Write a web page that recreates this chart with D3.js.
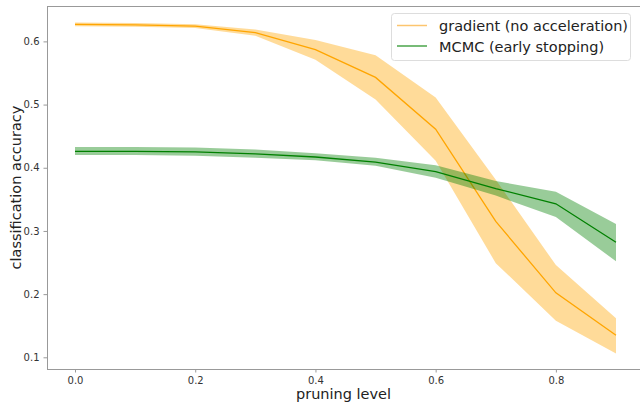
<!DOCTYPE html>
<html>
<head>
<meta charset="utf-8">
<script src="https://cdn.jsdelivr.net/npm/d3@7"></script>
<style>
  body { margin: 0; background: #fff; }
  svg { display: block; font-family: "DejaVu Sans", sans-serif; }
</style>
</head>
<body>
<div id="chart"></div>
<script>
// pruning levels
const levels = [0.0, 0.1, 0.2, 0.3, 0.4, 0.5, 0.6, 0.7, 0.8, 0.9];

// gradient (no acceleration)
const gradMean = [0.627, 0.626, 0.624, 0.614, 0.587, 0.543, 0.461, 0.315, 0.202, 0.135];
const gradLow  = [0.624, 0.623, 0.621, 0.609, 0.571, 0.508, 0.411, 0.249, 0.158, 0.106];
const gradHigh = [0.630, 0.629, 0.627, 0.619, 0.602, 0.578, 0.511, 0.381, 0.246, 0.162];

// MCMC (early stopping)
const mcmcMean = [0.426, 0.426, 0.425, 0.422, 0.417, 0.409, 0.394, 0.367, 0.343, 0.282];
const mcmcLow  = [0.420, 0.420, 0.419, 0.416, 0.412, 0.403, 0.384, 0.356, 0.322, 0.252];
const mcmcHigh = [0.433, 0.433, 0.432, 0.429, 0.423, 0.416, 0.404, 0.379, 0.362, 0.311];

const xTicks = [0.0, 0.2, 0.4, 0.6, 0.8];
const yTicks = [0.1, 0.2, 0.3, 0.4, 0.5, 0.6];

const width = 640, height = 402;
const mLeft = 47, mTop = 6, mRight = 644, mBottom = 369;

const svg = d3.select("#chart").append("svg")
  .attr("width", width)
  .attr("height", height);

const x = d3.scaleLinear().domain([-0.0466, 0.9466]).range([mLeft, mRight]);
const y = d3.scaleLinear().domain([0.0815, 0.656]).range([mBottom, mTop]);

// bands
function band(lo, hi, color) {
  const area = d3.area()
    .x((d, i) => x(levels[i]))
    .y0((d, i) => y(lo[i]))
    .y1((d, i) => y(hi[i]));
  svg.append("path")
    .datum(levels)
    .attr("d", area)
    .attr("fill", color)
    .attr("fill-opacity", 0.4);
}
function line(vals, color) {
  const l = d3.line()
    .x((d, i) => x(levels[i]))
    .y((d, i) => y(vals[i]));
  svg.append("path")
    .datum(levels)
    .attr("d", l)
    .attr("fill", "none")
    .attr("stroke", color)
    .attr("stroke-width", 1.3);
}

band(gradLow, gradHigh, "#ffa500");
line(gradMean, "#ffa500");
band(mcmcLow, mcmcHigh, "#008000");
line(mcmcMean, "#008000");

// axes
const xAxis = svg.append("g")
  .attr("transform", `translate(0,${mBottom})`)
  .call(d3.axisBottom(x).tickValues(xTicks).tickFormat(d3.format(".1f")).tickSizeOuter(0).tickSize(3.5).tickPadding(4));
const yAxis = svg.append("g")
  .attr("transform", `translate(${mLeft},0)`)
  .call(d3.axisLeft(y).tickValues(yTicks).tickFormat(d3.format(".1f")).tickSizeOuter(0).tickSize(3.5).tickPadding(4));

[xAxis, yAxis].forEach(g => {
  g.select(".domain").remove();
  g.selectAll(".tick line").attr("stroke", "#999");
  g.selectAll(".tick text")
    .attr("fill", "#333")
    .style("font-size", "10px")
    .style("font-family", "DejaVu Sans");
});

// frame
svg.append("rect")
  .attr("x", mLeft + 0.5)
  .attr("y", mTop + 0.5)
  .attr("width", mRight - mLeft)
  .attr("height", mBottom - mTop)
  .attr("fill", "none")
  .attr("stroke", "#999")
  .attr("stroke-width", 1);

// axis labels
svg.append("text")
  .attr("x", (mLeft + mRight) / 2 - 2)
  .attr("y", 399)
  .attr("text-anchor", "middle")
  .attr("fill", "#222")
  .style("font-size", "14.5px")
  .text("pruning level");

svg.append("text")
  .attr("transform", `translate(21,${(mTop + mBottom) / 2}) rotate(-90)`)
  .attr("text-anchor", "middle")
  .attr("fill", "#222")
  .style("font-size", "14.5px")
  .text("classification accuracy");

// legend
const legend = svg.append("g");
legend.append("rect")
  .attr("x", 391.5)
  .attr("y", 13.5)
  .attr("width", 239)
  .attr("height", 47)
  .attr("rx", 3)
  .attr("fill", "#fff")
  .attr("fill-opacity", 0.8)
  .attr("stroke", "#ddd");

const items = [
  { label: "gradient (no acceleration)", color: "#fcc56f" },
  { label: "MCMC (early stopping)", color: "#4aa54a" }
];
items.forEach((it, i) => {
  const cy = 25.5 + i * 20.5;
  legend.append("line")
    .attr("x1", 397).attr("x2", 427)
    .attr("y1", cy).attr("y2", cy)
    .attr("stroke", it.color)
    .attr("stroke-width", 1.5);
  legend.append("text")
    .attr("x", 439)
    .attr("y", cy + 5.5)
    .attr("fill", "#222")
    .style("font-size", "14.5px")
    .text(it.label);
});
</script>
</body>
</html>
